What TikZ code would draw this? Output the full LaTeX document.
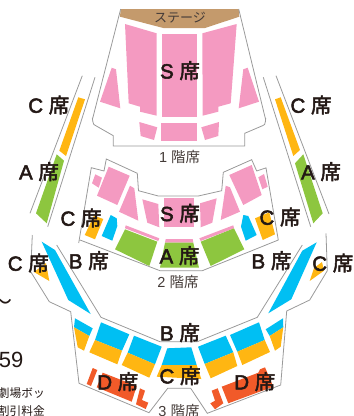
\documentclass[tikz,border=0pt]{standalone}
\usepackage{fontspec}
\setmainfont{Liberation Sans}
\newfontfamily\jpf{Noto Sans CJK JP}
\newfontfamily\jpb[FakeBold=2.5]{Noto Sans CJK JP}
\newfontfamily\latb[FakeBold=2.5]{Liberation Sans}
\definecolor{ink}{HTML}{231815}
\definecolor{seatS}{HTML}{F49AC1}
\definecolor{seatA}{HTML}{8DC63F}
\definecolor{seatB}{HTML}{00BFF3}
\definecolor{seatC}{HTML}{FFB612}
\definecolor{seatD}{HTML}{F15A29}
\definecolor{stagec}{HTML}{C49A6C}
\definecolor{wall}{HTML}{9A9A9A}
\newcommand{\seatlabel}[1]{{\fontsize{20.5}{20}\latb #1 {\jpb 席}}}
\newcommand{\floorlabel}[1]{{\fontsize{14.5}{14}\selectfont #1 {\jpf\fontsize{14.5}{14}\selectfont 階席}}}
\tikzset{
  wallline/.style={draw=wall,line width=0.8pt,line join=miter},
  seatlbl/.style={text=ink,inner sep=0pt,anchor=center},
  floorlbl/.style={text=ink!85,inner sep=0pt,anchor=center},
  sideinfo/.style={text=ink,inner sep=0pt,anchor=east},
  S/.style={fill=seatS},A/.style={fill=seatA},B/.style={fill=seatB},Cc/.style={fill=seatC},Dd/.style={fill=seatD}
}
\begin{document}
\begin{tikzpicture}[x=1pt,y=-1pt]
\useasboundingbox (0,0) rectangle (354,416);
% stage
\fill[stagec] (120.7,9)--(238.7,9)--(239.3,16.7)--(205,28)--(163.3,28)--(120,16.7)--cycle;
% walls
\draw[wallline] (120.7,9)--(92.7,118.3) to[out=105,in=-160] (95.5,125.5)--(113.3,135.7)--(113.3,146)--(244.7,146)--(244.7,133.3)--(263,125.5) to[out=-20,in=75] (265.3,118.3)--(238.7,9);
\draw[wallline] (82.3,75.7)--(30,213.3);
\draw[wallline] (95,77.3)--(47.7,226.7);
\draw[wallline] (263.3,77.3)--(310.7,226.7);
\draw[wallline] (276,75.7)--(329,214);
\draw[wallline] (78.7,243)--(91.3,167.7)--(104,171)--(106.3,159)--(137.3,173.3)--(138.5,190.7)--(158.3,196)--(198.3,196)--(221.7,190.7)--(223.3,172.3)--(251.7,159.7)--(256.7,171)--(266,167.9)--(278.3,240)--(202.3,270.7)--(160,270.7)--(80,240);
\draw[wallline] (32.3,235)--(30.7,271.7)--(49.3,301.7)--(70.7,311.7)--(79,383.3)--(149,412.7)--(167.7,388.3)--(190.7,388.3)--(207.3,413.3)--(280.7,385)--(286.7,311)--(309.7,300)--(327.3,270.7)--(326,233.3);
\draw[wallline] (56.7,245)--(101,317.3)--(160,341.7)--(197.3,341.7)--(257.3,317.3)--(302.3,245);
% first floor seats
\path[S] (125,24)--(156.7,33.3)--(156.7,115.7)--(140,111.7)--(140,106.7)--(128.7,103.3)--cycle;
\path[S] (162,34)--(197.3,34)--(197.3,117)--(162,117)--cycle;
\path[S] (202.3,33.3)--(236.7,24)--(230.7,103.3)--(218.3,106.7)--(218.3,111.7)--(202.7,115.7)--cycle;
\path[S] (111.7,67.7)--(116,69.3)--(120.3,108.3)--(100,101.7)--cycle;
\path[S] (243.3,69.3)--(247.7,67.7)--(259,101.7)--(238.7,108.3)--cycle;
\path[S] (139.3,122)--(157.3,127.3)--(154,140)--(140.7,136)--cycle;
\path[S] (161.3,123)--(197.3,123)--(197.3,140.7)--(161.3,140.7)--cycle;
\path[S] (201.3,127.3)--(219,122)--(218.3,136)--(205,140)--cycle;
% side boxes
\path[Cc] (78.3,97.3)--(85,99.3)--(66,156)--(59.3,150.7)--cycle;
\path[A] (56.7,154.3)--(64,160.7)--(46.7,223.3)--(36,213.3)--cycle;
\path[Cc] (275,99.3)--(280.7,97.3)--(300,150)--(293.3,156)--cycle;
\path[A] (295,163.3)--(303.3,154.3)--(322.7,213.3)--(313.3,223.3)--cycle;
% second floor seats
\path[S] (95.3,174.3)--(102,177.7)--(98.7,187.7)--(92,183.3)--cycle;
\path[S] (108.7,166.7)--(129.7,175.7)--(117.3,205)--(97,195.7)--cycle;
\path[S] (130,185.7)--(134.3,188.3)--(138.3,220.7)--(119,211.7)--cycle;
\path[S] (142.3,199.3)--(158.3,204)--(159.3,227.3)--(147.3,222.7)--cycle;
\path[S] (164,198.3)--(194,198.3)--(194,227.3)--(164,227.3)--cycle;
\path[S] (200,203.3)--(216.7,198.3)--(212.3,222.7)--(200.7,227.3)--cycle;
\path[S] (225.7,185.7)--(230,187.3)--(240,211.7)--(220.7,220)--cycle;
\path[S] (229.3,175)--(251.7,165)--(261.7,195)--(243.3,205)--cycle;
\path[S] (258.3,177.3)--(264,174)--(267.7,186.7)--(262.3,189.3)--cycle;
\path[S] (125.7,225.3)--(159.3,238.3)--(158.3,241)--(125,228.3)--cycle;
\path[S] (165.7,239)--(192.7,239)--(193.3,242.7)--(165,242.7)--cycle;
\path[S] (199.3,238.3)--(233.3,225.3)--(234,228.3)--(200.7,241)--cycle;
\path[A] (125,229.3)--(157.3,241.7)--(149.3,266)--(115,249.3)--cycle;
\path[A] (165,242.7)--(193.3,242.7)--(199,267.7)--(160,267.7)--cycle;
\path[A] (200.7,241.7)--(234,228.3)--(244.3,249.3)--(210.7,266)--cycle;
\path[B] (110.7,215)--(116.7,218.3)--(117.3,226)--(112.3,240.7)--(101.7,236)--cycle;
\path[Cc] (94,215.7)--(103.3,219)--(95,239.3)--(84.7,235)--cycle;
\path[B] (243.3,215)--(248.3,216)--(256.7,235)--(245.7,240.7)--(241,226.7)--cycle;
\path[Cc] (255,218.3)--(269.3,212.3)--(275,234.3)--(262.7,240)--cycle;
% third floor seats
\path[B] (41.7,241.7)--(55,250)--(90.7,314)--(68.3,300)--cycle;
\path[B] (316.7,242.3)--(291.3,299.3)--(268.3,313.3)--(302.3,250.7)--cycle;
\path[Cc] (34,272)--(46,263)--(49.3,281)--cycle;
\path[Cc] (309.7,281)--(314,268)--(322,262)--(324,270.7)--cycle;
\path[B] (75,318.3)--(92.7,328.3)--(89.3,336)--(74,327.3)--cycle;
\path[Cc] (74,327.3)--(89.3,336)--(84,350.7)--(77.7,347.3)--cycle;
\path[B] (101,322.3)--(129.3,334.3)--(122,350.7)--(95,340)--cycle;
\path[Cc] (95,340)--(122,350.7)--(117.3,364.3)--(89.3,352.3)--cycle;
\path[B] (134,335.7)--(161.7,346.7)--(155,364.3)--(127.7,352.7)--cycle;
\path[Cc] (127.7,352.7)--(155,364.3)--(149.3,377.7)--(121.7,365)--cycle;
\path[B] (167.3,348.3)--(191.3,347.3)--(196.7,365)--(161.7,365)--cycle;
\path[Cc] (161.7,365)--(196.7,365)--(201.3,379)--(156.7,376.7)--cycle;
\path[B] (198,346.7)--(225.7,335.7)--(233.3,352.3)--(204.7,364)--cycle;
\path[Cc] (204.7,364)--(233.3,352.3)--(237.3,366)--(210.7,378.3)--cycle;
\path[B] (230,335)--(259,322.3)--(264.7,340)--(237.3,351.7)--cycle;
\path[Cc] (237.3,351.7)--(264.7,340)--(270,352)--(242.3,365)--cycle;
\path[B] (265.7,329.3)--(283,318.3)--(283.3,327.3)--(269.7,336)--cycle;
\path[Cc] (269.7,336)--(283.3,327.3)--(280.7,346.7)--(275,350.7)--cycle;
\path[Dd] (92.7,368)--(97.3,370)--(91,386)--(86.7,384)--cycle;
\path[Dd] (102.7,372.7)--(136.7,386)--(131.7,401.7)--(96.7,387.3)--cycle;
\path[Dd] (140,388.3)--(145,390.7)--(142,400)--(148.3,402.7)--(145.7,409)--(136,404.3)--cycle;
\path[Dd] (221.7,386.7)--(258.3,372.7)--(260,369.3)--(265,367.3)--(273.3,386.7)--(228.3,403.3)--cycle;
\path[Dd] (211.7,390.7)--(217.7,388.3)--(223.3,403.3)--(215,409.3)--(210.3,403.3)--(215,400.7)--cycle;
% labels
\node[inner sep=0pt,text=ink!85] (stage) at (180,17.5) {\jpf\fontsize{13}{13}\selectfont ステージ};
\node[seatlbl] (s1) at (180,70.7) {\seatlabel{S}};
\node[floorlbl] (f1) at (179.7,157.3) {\floorlabel{1}};
\node[seatlbl] (cl) at (48.8,105) {\seatlabel{C}};
\node[seatlbl] (al) at (39,171.7) {\seatlabel{A}};
\node[seatlbl] (cml) at (81,218) {\seatlabel{C}};
\node[seatlbl] (cr) at (311,105) {\seatlabel{C}};
\node[seatlbl] (ar) at (321,171.7) {\seatlabel{A}};
\node[seatlbl] (cmr) at (280,217) {\seatlabel{C}};
\node[seatlbl] (s2) at (180,213.3) {\seatlabel{S}};
\node[seatlbl] (a2) at (179.5,255.7) {\seatlabel{A}};
\node[floorlbl] (f2) at (178,282.3) {\floorlabel{2}};
\node[seatlbl] (cll) at (28.3,263) {\seatlabel{C}};
\node[seatlbl] (bl) at (88.8,260.7) {\seatlabel{B}};
\node[seatlbl] (br) at (271.5,260.7) {\seatlabel{B}};
\node[seatlbl] (crr) at (332.8,263) {\seatlabel{C}};
\node[seatlbl] (b3) at (180,332.7) {\seatlabel{B}};
\node[seatlbl] (c3) at (180,375.7) {\seatlabel{C}};
\node[seatlbl] (dl) at (117.8,381.7) {\seatlabel{D}};
\node[seatlbl] (dr) at (254.8,381.7) {\seatlabel{D}};
\node[floorlbl] (f3) at (179,410.7) {\floorlabel{3}};
% cut-off text at the left edge
\node[sideinfo] (tilde) at (13,303.5) {\jpf\fontsize{22}{22}\selectfont ～};
\node[sideinfo] (num) at (23.5,360) {\fontsize{22}{22}\selectfont 59};
\node[sideinfo] (line1) at (45,392.7) {\jpf\fontsize{11.7}{12}\selectfont 劇場ボッ};
\node[sideinfo] (line2) at (45,411) {\jpf\fontsize{11.7}{12}\selectfont 割引料金};
\end{tikzpicture}
\end{document}
